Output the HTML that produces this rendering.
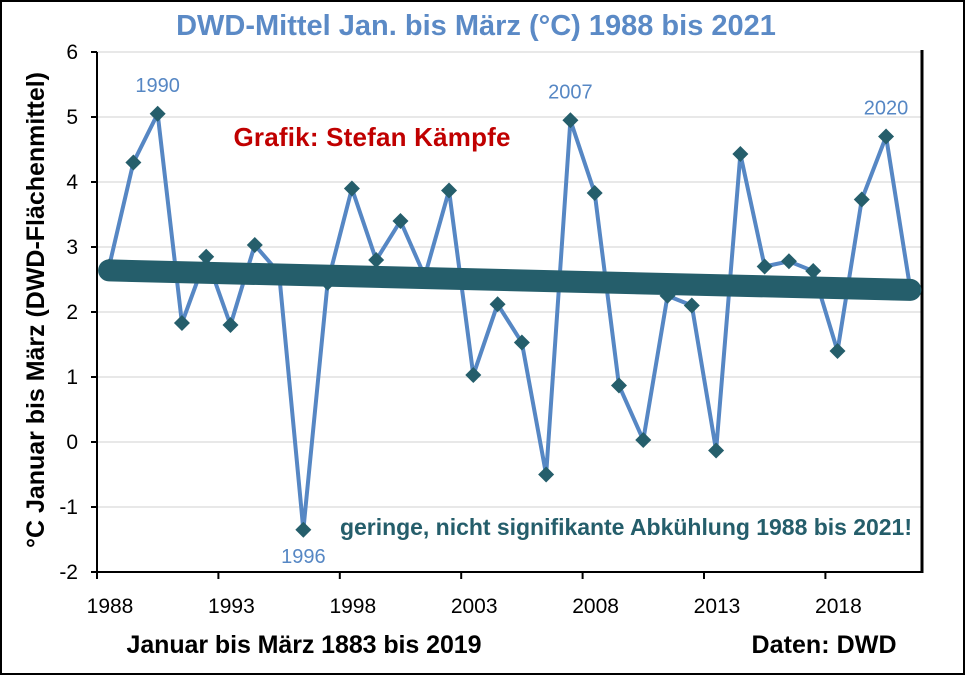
<!DOCTYPE html>
<html><head><meta charset="utf-8"><style>
body{margin:0;background:#fff}
svg{display:block;font-family:"Liberation Sans",sans-serif}
</style></head><body>
<svg id="c" width="965" height="675">
<rect x="1" y="1" width="963" height="673" fill="#fff" stroke="#000" stroke-width="2"/>
<text x="476" y="35" text-anchor="middle" font-size="29" font-weight="bold" fill="#5b8ac6">DWD-Mittel Jan. bis März (°C) 1988 bis 2021</text>
<g id="grid"></g><g id="axes"></g><g id="marks"></g>
<text x="372" y="146" text-anchor="middle" font-size="26" font-weight="bold" fill="#c00000" textLength="277">Grafik: Stefan Kämpfe</text>
<text x="626" y="535" text-anchor="middle" font-size="23" font-weight="bold" fill="#255e6b" textLength="572">geringe, nicht signifikante Abkühlung 1988 bis 2021!</text>
<text x="304" y="653" text-anchor="middle" font-size="25" font-weight="bold" fill="#000" textLength="355">Januar bis März 1883 bis 2019</text>
<text x="824" y="653" text-anchor="middle" font-size="25" font-weight="bold" fill="#000" textLength="145">Daten: DWD</text>
<text transform="translate(44,310) rotate(-90)" text-anchor="middle" font-size="25" font-weight="bold" fill="#000" textLength="476">°C Januar bis März (DWD-Flächenmittel)</text>
</svg>
<script>
const years=[1988,1989,1990,1991,1992,1993,1994,1995,1996,1997,1998,1999,2000,2001,2002,2003,2004,2005,2006,2007,2008,2009,2010,2011,2012,2013,2014,2015,2016,2017,2018,2019,2020,2021];
const temps=[2.7,4.3,5.05,1.83,2.85,1.8,3.03,2.6,-1.35,2.45,3.9,2.8,3.4,2.55,3.87,1.03,2.12,1.53,-0.5,4.95,3.83,0.87,0.03,2.25,2.1,-0.13,4.43,2.7,2.78,2.63,1.4,3.73,4.7,2.35];
const trendStart=2.64, trendEnd=2.34;
const yTicks=[-2,-1,0,1,2,3,4,5,6];
const xTickLabels=[1988,1993,1998,2003,2008,2013,2018];
const labeledYears=[1990,1996,2007,2020];
const NS="http://www.w3.org/2000/svg";
const x0=97,pxYear=24.28,y0=442,pxUnit=65,xr=922;
const X=yr=>x0+(yr-1988)*pxYear+12.1;
const XT=yr=>x0+(yr-1988)*pxYear;
const Y=v=>y0-v*pxUnit;
function mk(p,tag,a){const e=document.createElementNS(NS,tag);for(const k in a)e.setAttribute(k,a[k]);document.getElementById(p).appendChild(e);return e;}
yTicks.forEach(t=>{
  if(t>-2){const l=mk('grid','line',{x1:x0,x2:xr,y1:Y(t),y2:Y(t),stroke:'#d9d9d9','stroke-width':1.3});
  
  }
  const tk=mk('axes','line',{x1:x0-6,x2:x0,y1:Y(t),y2:Y(t),stroke:'#000','stroke-width':2});
  
  
  const tx=mk('axes','text',{x:x0-19,y:Y(t)+7,'text-anchor':'end','font-size':21,fill:'#000'});
  tx.textContent=t;
  
  
});
const ya=mk('axes','line',{x1:x0,x2:x0,y1:Y(6),y2:Y(-2),stroke:'#000','stroke-width':2});


const rb=mk('axes','line',{x1:xr,x2:xr,y1:Y(6)-2,y2:Y(-2)+1,stroke:'#000','stroke-width':3});


const xa=mk('axes','line',{x1:x0-6,x2:xr,y1:Y(-2),y2:Y(-2),stroke:'#000','stroke-width':2});


xTickLabels.forEach(yr=>{
  const tk=mk('axes','line',{x1:XT(yr),x2:XT(yr),y1:Y(-2),y2:Y(-2)+7,stroke:'#000','stroke-width':2});
  
  
  const tx=mk('axes','text',{x:XT(yr)+13,y:Y(-2)+41,'text-anchor':'middle','font-size':21,fill:'#000'});
  tx.textContent=yr;
  
  
});
const pts=years.map((yr,i)=>X(yr)+','+Y(temps[i])).join(' ');
const ln=mk('marks','polyline',{points:pts,fill:'none',stroke:'#5687c4','stroke-width':4,'stroke-linejoin':'round'});


years.forEach((yr,i)=>{
  const cx=X(yr),cy=Y(temps[i]);
  const d=mk('marks','polygon',{points:`${cx},${cy-8} ${cx+8},${cy} ${cx},${cy+8} ${cx-8},${cy}`,fill:'#255e6b'});
  
  
});
const tr=mk('marks','line',{x1:X(1988),y1:Y(trendStart),x2:X(2021),y2:Y(trendEnd),stroke:'#255e6b','stroke-width':22,'stroke-linecap':'round'});


labeledYears.forEach(yr=>{
  const i=years.indexOf(yr),v=temps[i];
  const below=v<0;
  const tx=mk('marks','text',{x:X(yr),y:below?Y(v)+33:Y(v)-22,'text-anchor':'middle','font-size':20,fill:'#5687c4'});
  tx.textContent=yr;
  
  
});
</script>
</body></html>
